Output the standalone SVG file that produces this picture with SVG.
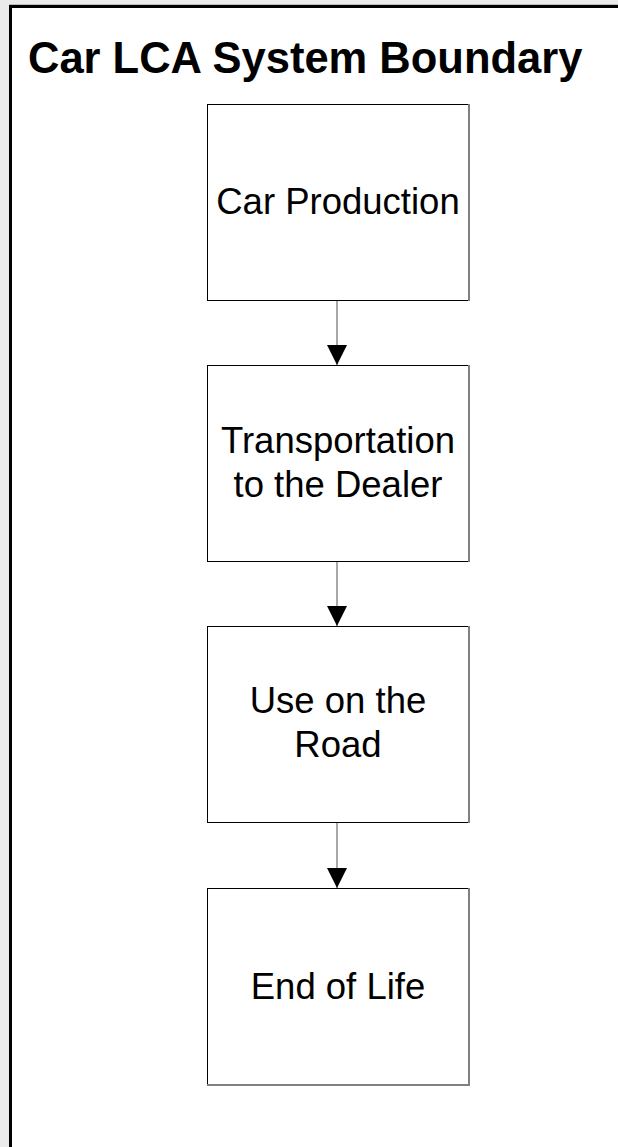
<svg xmlns="http://www.w3.org/2000/svg" width="618" height="1147" viewBox="0 0 618 1147">
  <style>
    .box { fill: #ffffff; stroke: #000000; stroke-width: 1; }
    .edge { stroke: #808080; stroke-width: 2; fill: none; }
    .label { font-family: "Liberation Sans", Arial, sans-serif; font-size: 36.5px; fill: #000000; text-anchor: middle; }
    .title { font-family: "Liberation Sans", Arial, sans-serif; font-size: 43.5px; font-weight: bold; fill: #000000; }
    .conn { stroke: #6e6e6e; stroke-width: 1.2; fill: none; }
  </style>
  <defs>
    <marker id="arrow" markerUnits="userSpaceOnUse" markerWidth="22" markerHeight="20" refX="20" refY="10" orient="auto">
      <path d="M0,0 L20,10 L0,20 Z" fill="#000000"/>
    </marker>
  </defs>

  <!-- page background -->
  <rect x="0" y="0" width="618" height="1147" fill="#ebebeb"/>

  <!-- system boundary frame -->
  <g id="boundary">
    <line x1="9" y1="4.5" x2="618" y2="4.5" stroke="#bdbdbd" stroke-width="1"/>
    <rect x="10.5" y="6.5" width="700" height="1200" fill="#ffffff" stroke="#000000" stroke-width="3"/>
    <text class="title" x="28" y="73">Car LCA System Boundary</text>
  </g>

  <!-- connectors -->
  <g id="connectors">
    <line class="conn" x1="337" y1="300" x2="337" y2="365" marker-end="url(#arrow)"/>
    <line class="conn" x1="337" y1="561" x2="337" y2="626" marker-end="url(#arrow)"/>
    <line class="conn" x1="337" y1="822" x2="337" y2="888" marker-end="url(#arrow)"/>
  </g>

  <g id="car-production">
    <rect class="box" x="207.5" y="104.5" width="261" height="196"/>
    <line class="edge" x1="469" y1="104" x2="469" y2="301"/>
    <text class="label" x="338" y="214">Car Production</text>
  </g>

  <g id="transportation">
    <rect class="box" x="207.5" y="365.5" width="261" height="196"/>
    <line class="edge" x1="469" y1="365" x2="469" y2="562"/>
    <text class="label" x="338" y="453">Transportation</text>
    <text class="label" x="338" y="497">to the Dealer</text>
  </g>

  <g id="use-on-road">
    <rect class="box" x="207.5" y="626.5" width="261" height="196"/>
    <line class="edge" x1="469" y1="626" x2="469" y2="823"/>
    <text class="label" x="338" y="713">Use on the</text>
    <text class="label" x="338" y="757">Road</text>
  </g>

  <g id="end-of-life">
    <rect class="box" x="207.5" y="888.5" width="261" height="196"/>
    <line class="edge" x1="469" y1="888" x2="469" y2="1085"/>
    <line class="edge" x1="207" y1="1085" x2="470" y2="1085"/>
    <text class="label" x="338" y="999">End of Life</text>
  </g>
</svg>
